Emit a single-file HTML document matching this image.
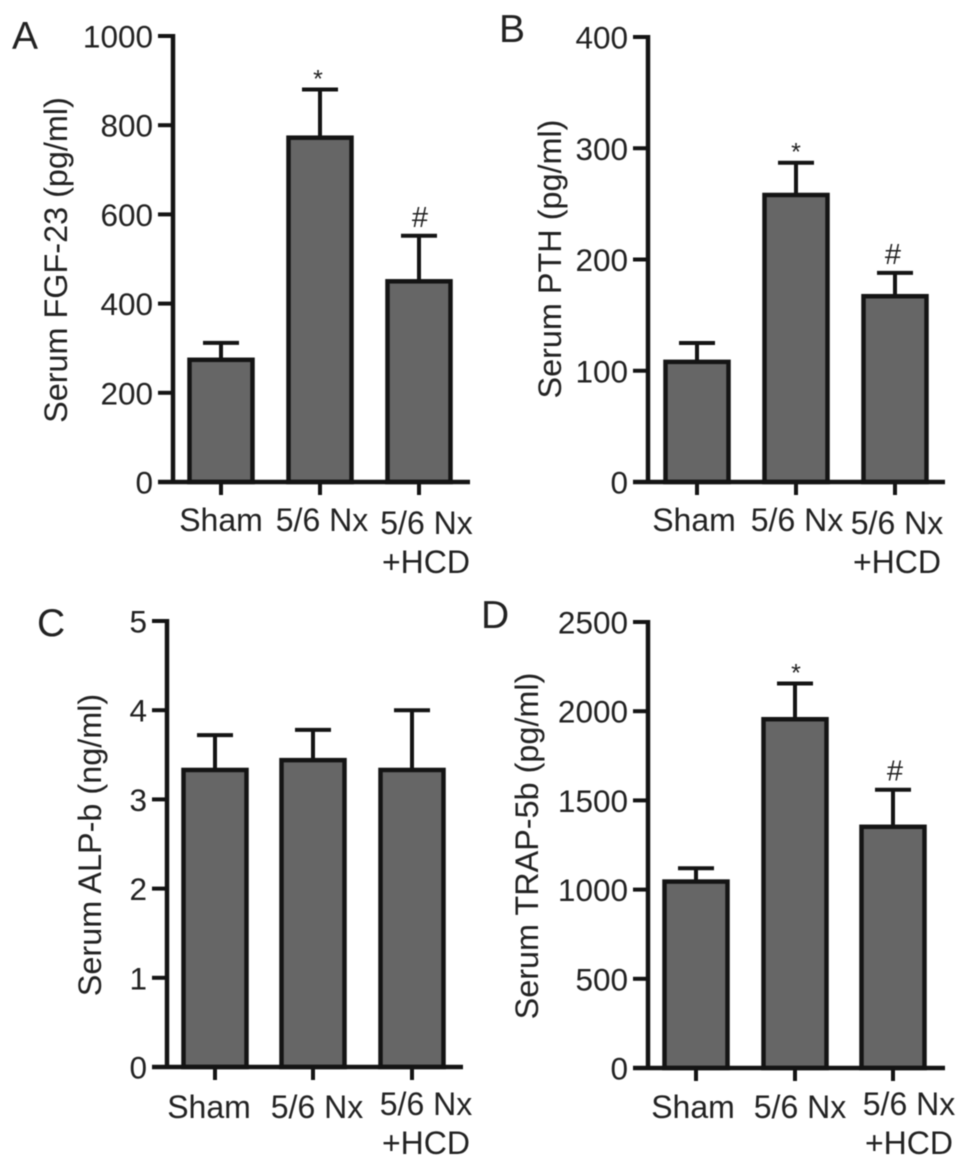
<!DOCTYPE html>
<html>
<head>
<meta charset="utf-8">
<style>
html,body{margin:0;padding:0;background:#fff;}
svg{display:block;filter:blur(0.55px);}
text{font-family:"Liberation Sans",sans-serif;fill:#222222;}
</style>
</head>
<body>
<svg id="fig" xmlns="http://www.w3.org/2000/svg" width="969" height="1172" viewBox="0 0 969 1172"></svg>
<script>
var categories = ["Sham", "5/6 Nx", "5/6 Nx"];
var secondLine = ["", "", "+HCD"];
var annotations = ["", "*", "#"];

var fgfValues = [274, 772, 450];
var fgfErrors = [312, 880, 552];
var fgfTicks = [0, 200, 400, 600, 800, 1000];

var pthValues = [108, 258, 167];
var pthErrors = [125, 287, 188];
var pthTicks = [0, 100, 200, 300, 400];

var alpValues = [3.33, 3.44, 3.33];
var alpErrors = [3.72, 3.78, 4.0];
var alpTicks = [0, 1, 2, 3, 4, 5];

var trapValues = [1045, 1955, 1352];
var trapErrors = [1120, 2155, 1560];
var trapTicks = [0, 500, 1000, 1500, 2000, 2500];

var NS = "http://www.w3.org/2000/svg";
var fig = document.getElementById("fig");
var INK = "#141414";

function make(parent, tag, attrs, txt) {
  var e = document.createElementNS(NS, tag);
  for (var k in attrs) e.setAttribute(k, attrs[k]);
  if (txt !== undefined) e.textContent = txt;
  parent.appendChild(e);
  return e;
}

function line(parent, x1, y1, x2, y2, w) {
  return make(parent, "line", {x1: x1, y1: y1, x2: x2, y2: y2, stroke: INK, "stroke-width": w || 4});
}

function drawPanel(p) {
  var g = make(fig, "g", {});
  
  
  var max = p.ticks[p.ticks.length - 1];
  function y(v) { return p.y0 - (v / max) * (p.y0 - p.yTop); }

  var letter = make(g, "text", {x: p.letterX, y: p.letterY, "font-size": 39}, p.letter);
  
  

  var title = make(g, "text", {
    transform: "translate(" + p.titleX + "," + p.titleY + ") rotate(-90)",
    "text-anchor": "middle", "font-size": 32.4
  }, p.title);
  
  

  p.values.forEach(function (v, i) {
    var cx = p.centers[i];
    var cap = line(g, cx - 18, y(p.errors[i]), cx + 18, y(p.errors[i]), 4);
    
    
    var stem = line(g, cx, y(p.errors[i]), cx, y(v), 4);
    
    
    var bar = make(g, "rect", {
      x: cx - 31.5, y: y(v), width: 63, height: p.y0 - y(v),
      fill: "#666666", stroke: INK, "stroke-width": 4.5
    });
    
    

    var tick = line(g, cx, p.y0, cx, p.y0 + 13, 4);
    
    

    var lab = make(g, "text", {x: p.labelX[i], y: p.labelY[i], "text-anchor": "middle", "font-size": 32}, categories[i]);
    
    
    if (secondLine[i]) {
      var lab2 = make(g, "text", {x: p.label2X, y: p.labelY[i] + 39, "text-anchor": "middle", "font-size": 32}, secondLine[i]);
      
      
    }
    if (annotations[i] && p.annotate) {
      var isStar = annotations[i] === "*";
      var mark = make(g, "text", {
        x: cx + (isStar ? p.starDx : p.hashDx), y: y(p.errors[i]) + (isStar ? -2 : -9),
        "text-anchor": "middle", "font-size": isStar ? 25 : 29
      }, annotations[i]);
      
      
    }
  });

  var yAxis = line(g, p.axisX, p.yTop - 2, p.axisX, p.y0 + 2, 4.5);
  
  
  var xAxis = line(g, p.axisX - 15, p.y0, p.xEnd, p.y0, 4.5);
  
  

  p.ticks.forEach(function (t) {
    var tk = line(g, p.axisX - 15, y(t), p.axisX, y(t), 4);
    
    
    var tl = make(g, "text", {x: p.axisX - 20, y: y(t) + 11.5, "text-anchor": "end", "font-size": 31.5}, String(t));
    
    
  });
}

drawPanel({
  id: "panel-a-fgf23", letter: "A", letterX: 12, letterY: 49,
  title: "Serum FGF-23 (pg/ml)", titleX: 67, titleY: 260,
  values: fgfValues, errors: fgfErrors, ticks: fgfTicks, annotate: true, starDx: -2, hashDx: 1,
  axisX: 173, y0: 482, yTop: 36, xEnd: 470,
  centers: [221, 320, 419],
  labelX: [221, 322, 426.5], labelY: [531, 531, 534], label2X: 426
});
drawPanel({
  id: "panel-b-pth", letter: "B", letterX: 499, letterY: 42,
  title: "Serum PTH (pg/ml)", titleX: 561, titleY: 259,
  values: pthValues, errors: pthErrors, ticks: pthTicks, annotate: true, starDx: 0, hashDx: -2,
  axisX: 648, y0: 482, yTop: 37, xEnd: 945,
  centers: [697, 796, 895],
  labelX: [694, 797, 897], labelY: [531, 531, 534], label2X: 897
});
drawPanel({
  id: "panel-c-alp", letter: "C", letterX: 37, letterY: 636,
  title: "Serum ALP-b (ng/ml)", titleX: 101, titleY: 845,
  values: alpValues, errors: alpErrors, ticks: alpTicks, annotate: false, starDx: 0, hashDx: 0,
  axisX: 167, y0: 1067, yTop: 621, xEnd: 463,
  centers: [215, 313, 412],
  labelX: [209, 317, 426], labelY: [1118, 1118, 1115], label2X: 426
});
drawPanel({
  id: "panel-d-trap", letter: "D", letterX: 481, letterY: 628,
  title: "Serum TRAP-5b (pg/ml)", titleX: 538, titleY: 846,
  values: trapValues, errors: trapErrors, ticks: trapTicks, annotate: true, starDx: 1, hashDx: 2,
  axisX: 648, y0: 1068, yTop: 622, xEnd: 945,
  centers: [696, 795, 893],
  labelX: [693, 800, 909], labelY: [1118, 1118, 1115], label2X: 909
});
</script>
</body>
</html>
